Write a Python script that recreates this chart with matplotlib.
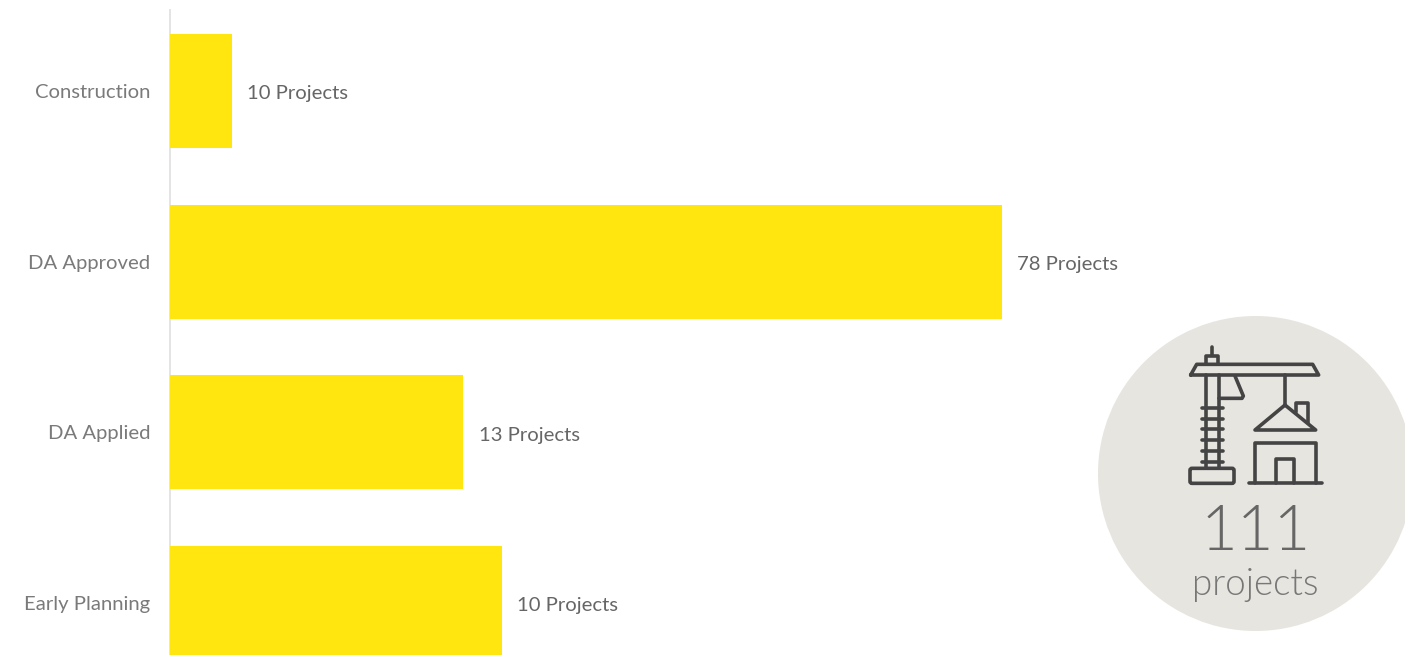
import matplotlib
matplotlib.use("Agg")
import matplotlib.pyplot as plt
from matplotlib.patches import Circle, FancyBboxPatch

plt.rcParams["font.family"] = ["Lato", "DejaVu Sans"]

# Chart data
categories = ["Construction", "DA Approved", "DA Applied", "Early Planning"]
bar_values = [5.8, 78, 27.5, 31.1]
project_counts = [10, 78, 13, 10]
total_projects = 111

YELLOW = "#FFE60F"
LABEL_GREY = "#7A7A7A"
VALUE_GREY = "#666666"
ICON_GREY = "#444444"
BADGE = "#E7E5E0"

W, H = 1405, 655
fig = plt.figure(figsize=(W / 100, H / 100), dpi=100, facecolor="white")

# Bar panel: left edge at the category axis, running off the bottom of the figure
ax = fig.add_axes([170 / W, 0, (W - 170) / W, 645 / H])
positions = range(len(categories))
ax.barh(list(positions), bar_values, height=0.667, color=YELLOW, linewidth=0, zorder=3)
ax.set_xlim(0, (W - 170) / (832 / 78))
ax.set_ylim(3.305, -0.4755)
ax.set_yticks(list(positions), categories, fontsize=14.6, color=LABEL_GREY)
ax.tick_params(axis="y", length=0, pad=14)
ax.set_xticks([])
for side in ("top", "right", "bottom"):
    ax.spines[side].set_visible(False)
ax.spines["left"].set_color("#E4E4E4")
ax.spines["left"].set_linewidth(1.4)
ax.patch.set_alpha(0)

for pos, val, count in zip(positions, bar_values, project_counts):
    ax.annotate(f"{count} Projects", (val, pos), xytext=(11.0, -2),
                textcoords="offset points", va="center", ha="left",
                fontsize=14.6, color=VALUE_GREY)

# Overlay in pixel units for the badge in the lower right
ov = fig.add_axes([0, 0, 1, 1])
ov.set_xlim(0, W)
ov.set_ylim(H, 0)
ov.axis("off")
ov.patch.set_alpha(0)
ov.add_patch(Circle((1255.5, 473.5), 157.5, facecolor=BADGE, edgecolor="none"))


def ix(v):
    return 1170 + v / 3


def iy(v):
    return 340 + v / 3


def stroke(points, close=False):
    pts = list(points) + ([points[0]] if close else [])
    ov.plot([ix(p[0]) for p in pts], [iy(p[1]) for p in pts], color=ICON_GREY,
            lw=2.6, solid_capstyle="round", solid_joinstyle="round")


# Tower crane lowering a roof onto a house
stroke([(125, 20), (125, 46)])
stroke([(108, 72), (108, 48), (145, 48), (145, 72)])
stroke([(62, 105), (80, 73), (428, 73), (446, 105)], close=True)
stroke([(107, 105), (107, 385)])
stroke([(147, 105), (147, 385)])
for rung in (203, 236, 268, 300, 332, 365):
    stroke([(95, rung), (158, rung)])
ov.add_patch(FancyBboxPatch((ix(60), iy(385)), 44, 15, boxstyle="round,pad=0,rounding_size=2",
                            facecolor="none", edgecolor=ICON_GREY, lw=2.6))
stroke([(195, 108), (220, 168), (216, 175), (147, 175)])
stroke([(345, 105), (345, 195)])
stroke([(345, 195), (255, 270), (437, 270)], close=True)
stroke([(378, 215), (378, 190), (413, 190), (413, 250)])
stroke([(255, 428), (255, 308), (437, 308), (437, 428)])
stroke([(318, 428), (318, 358), (373, 358), (373, 428)])
stroke([(238, 428), (455, 428)])

ov.text(1255.5, 550, str(total_projects), fontsize=45.5, fontweight=300, color="#666666",
        ha="center", va="baseline")
ov.text(1255.5, 595, "projects", fontsize=26.5, fontweight=300, color="#777777",
        ha="center", va="baseline")

fig.savefig("out.png", dpi=100, facecolor="white")
